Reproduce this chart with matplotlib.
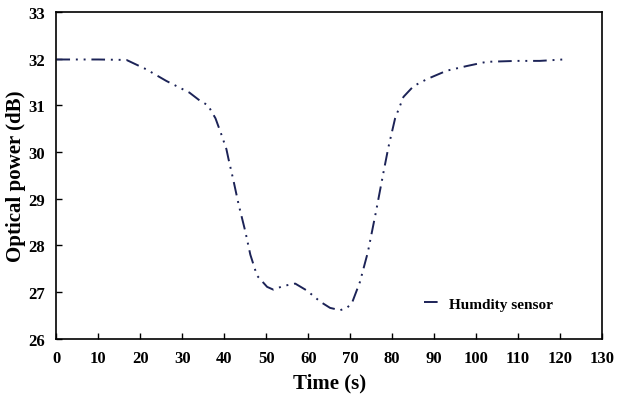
import matplotlib
matplotlib.use("Agg")
import matplotlib.pyplot as plt

# Readings taken off the reference curve
time_s = [0, 5, 10, 16.7, 21.4, 26.2, 31.7, 34.3, 36.1, 37.9, 39.4,
          40.5, 41.0, 42.2, 43.4, 45.0, 46.2, 47.8, 50.2, 51.7, 54.1, 56.9,
          59.7, 62.9, 65.2, 67.6, 69.2, 70.4, 72.3, 74.2, 76.1, 77.9,
          79.1, 80.7, 82.7, 85.1, 88.3, 93.0, 97.8, 102.5, 109.7, 115.2, 121.6]
power_db = [31.98, 31.98, 31.98, 31.97, 31.77, 31.52, 31.27, 31.09, 31.0,
            30.72, 30.35, 30.06, 29.85, 29.38, 28.88, 28.3, 27.8,
            27.35, 27.11, 27.05, 27.13, 27.18, 27.03, 26.79, 26.66, 26.61,
            26.66, 26.76, 27.21, 27.85, 28.7, 29.55, 30.1, 30.72, 31.18,
            31.41, 31.56, 31.74, 31.84, 31.93, 31.95, 31.95, 31.985]
series_label = "Humdity sensor"
x_ticks = list(range(0, 131, 10))
y_ticks = list(range(26, 34))

plt.rcParams["font.family"] = ["Liberation Serif", "DejaVu Serif"]
plt.rcParams["font.weight"] = "bold"

fig = plt.figure(figsize=(6.2, 4.02), dpi=100)
ax = fig.add_axes([0.091, 0.155, 0.880, 0.813])

ax.plot(time_s, power_db, color="#1c2357", lw=1.4,
        linestyle=(0, (7, 3, 1, 3, 1, 3)), label=series_label)

ax.set_xlim(0, 130)
ax.set_ylim(26, 33)
ax.set_xticks(x_ticks)
ax.set_yticks(y_ticks)
ax.tick_params(direction="in", length=4, width=1, labelsize=12, pad=8)
for lbl in ax.get_xticklabels() + ax.get_yticklabels():
    lbl.set_fontweight("bold")
for sp in ax.spines.values():
    sp.set_linewidth(1.2)

ax.set_xlabel("Time (s)", fontsize=15, fontweight="bold", labelpad=5)
ax.set_ylabel("Optical power (dB)", fontsize=15, fontweight="bold", labelpad=2)

ax.legend(loc="center right", bbox_to_anchor=(0.935, 0.107), frameon=False,
          handlelength=1.2, handletextpad=0.4,
          prop={"size": 11, "weight": "bold"})

fig.savefig("out.png", dpi=100)
